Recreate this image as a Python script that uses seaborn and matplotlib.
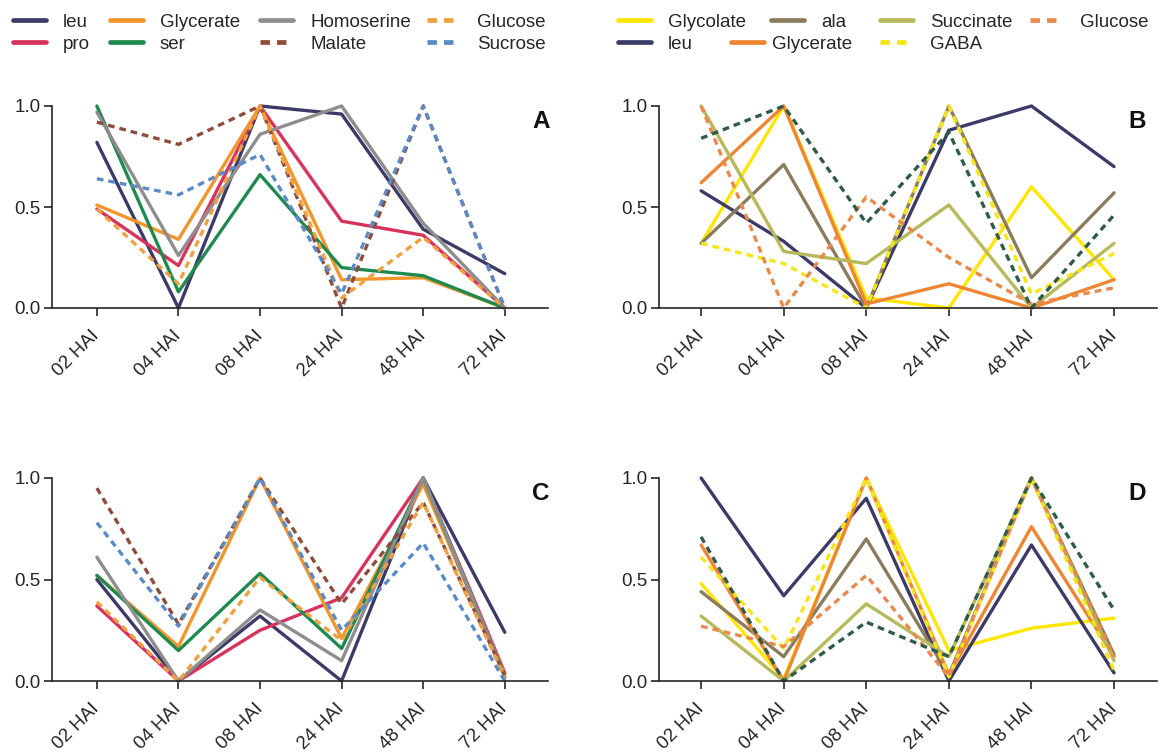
import matplotlib
matplotlib.use("Agg")
import matplotlib.pyplot as plt
import matplotlib.transforms as mtransforms
import seaborn as sns
import pandas as pd
from matplotlib.lines import Line2D

sns.set_theme(style="ticks")
plt.rcParams["font.family"] = ["Liberation Sans", "DejaVu Sans"]

times = ["02 HAI", "04 HAI", "08 HAI", "24 HAI", "48 HAI", "72 HAI"]
yticks = [0.0, 0.5, 1.0]

# Panel A
a_leu = [0.82, 0.0, 1.0, 0.96, 0.39, 0.17]
a_pro = [0.49, 0.21, 1.0, 0.43, 0.36, 0.0]
a_glycerate = [0.51, 0.34, 1.0, 0.14, 0.15, 0.0]
a_ser = [1.0, 0.08, 0.66, 0.20, 0.16, 0.0]
a_homoserine = [0.97, 0.26, 0.86, 1.0, 0.42, 0.0]
a_malate = [0.92, 0.81, 1.0, 0.0, 1.0, 0.0]
a_glucose = [0.49, 0.12, 1.0, 0.05, 0.35, 0.0]
a_sucrose = [0.64, 0.56, 0.76, 0.07, 1.0, 0.0]

# Panel B
b_glycolate = [0.32, 1.0, 0.05, 0.0, 0.60, 0.14]
b_leu = [0.58, 0.33, 0.0, 0.88, 1.0, 0.70]
b_ala = [0.32, 0.71, 0.0, 1.0, 0.15, 0.57]
b_glycerate = [0.62, 1.0, 0.02, 0.12, 0.0, 0.14]
b_succinate = [1.0, 0.28, 0.22, 0.51, 0.0, 0.32]
b_gaba = [0.32, 0.22, 0.0, 1.0, 0.07, 0.27]
b_glucose = [1.0, 0.0, 0.55, 0.25, 0.02, 0.10]
b_other = [0.84, 1.0, 0.42, 0.87, 0.0, 0.46]

# Panel C
c_leu = [0.50, 0.0, 0.32, 0.0, 1.0, 0.24]
c_pro = [0.37, 0.0, 0.25, 0.41, 1.0, 0.04]
c_glycerate = [0.52, 0.17, 1.0, 0.21, 0.97, 0.03]
c_ser = [0.52, 0.15, 0.53, 0.16, 1.0, 0.02]
c_homoserine = [0.61, 0.0, 0.35, 0.10, 1.0, 0.02]
c_malate = [0.95, 0.28, 1.0, 0.38, 0.88, 0.03]
c_glucose = [0.39, 0.0, 0.51, 0.20, 0.88, 0.02]
c_sucrose = [0.78, 0.27, 1.0, 0.25, 0.68, 0.0]

# Panel D
d_glycolate = [0.48, 0.01, 1.0, 0.15, 0.26, 0.31]
d_leu = [1.0, 0.42, 0.90, 0.0, 0.67, 0.04]
d_ala = [0.44, 0.12, 0.70, 0.03, 1.0, 0.13]
d_glycerate = [0.67, 0.0, 1.0, 0.03, 0.76, 0.12]
d_succinate = [0.32, 0.0, 0.38, 0.12, 1.0, 0.10]
d_gaba = [0.61, 0.16, 1.0, 0.02, 1.0, 0.05]
d_glucose = [0.27, 0.17, 0.52, 0.02, 1.0, 0.12]
d_other = [0.71, 0.0, 0.29, 0.12, 1.0, 0.35]

DASH = (0, (2.0, 1.5))
LW = 2.4

left_style = [
    ("leu", "#3c3b68", "-"),
    ("pro", "#d8335c", "-"),
    ("Glycerate", "#f2952c", "-"),
    ("ser", "#1f8a4f", "-"),
    ("Homoserine", "#8e8e8e", "-"),
    ("Malate", "#8f4c3c", DASH),
    ("Glucose", "#f0a040", DASH),
    ("Sucrose", "#5b8bc7", DASH),
]
right_style = [
    ("Glycolate", "#ffe600", "-"),
    ("leu", "#3c3b68", "-"),
    ("ala", "#8a7c5d", "-"),
    ("Glycerate", "#ee8633", "-"),
    ("Succinate", "#b7b95b", "-"),
    ("GABA", "#f6e619", DASH),
    ("Glucose", "#e98a4c", DASH),
    ("other", "#2f5b49", DASH),
]

panel_a = [a_leu, a_pro, a_glycerate, a_ser, a_homoserine, a_malate, a_glucose, a_sucrose]
panel_b = [b_glycolate, b_leu, b_ala, b_glycerate, b_succinate, b_gaba, b_glucose, b_other]
panel_c = [c_leu, c_pro, c_glycerate, c_ser, c_homoserine, c_malate, c_glucose, c_sucrose]
panel_d = [d_glycolate, d_leu, d_ala, d_glycerate, d_succinate, d_gaba, d_glucose, d_other]

W, H = 1168, 755
fig = plt.figure(figsize=(W / 100, H / 100), dpi=100)
fig.patch.set_facecolor("white")


def px_axes(x0, x1, ytop, ybot):
    return fig.add_axes([x0 / W, 1 - ybot / H, (x1 - x0) / W, (ybot - ytop) / H])


ax_a = px_axes(52, 548, 106, 308)
ax_b = px_axes(659, 1157, 106, 308)
ax_c = px_axes(52, 548, 478, 681)
ax_d = px_axes(659, 1157, 478, 681)

INK = "#262626"
FS = 13.5
FS_PX = FS * 100 / 72
label_shift = mtransforms.ScaledTranslation(5 / 100, -6 / 100, fig.dpi_scale_trans)


def draw_panel(ax, series, styles, letter, xlim, letter_x):
    for vals, (name, color, ls) in zip(series, styles):
        df = pd.DataFrame({"time": times, "value": vals})
        sns.lineplot(data=df, x="time", y="value", ax=ax, color=color,
                     linestyle=ls, linewidth=LW, clip_on=False,
                     sort=False, legend=False, dash_capstyle="butt")
    ax.set_xlim(*xlim)
    ax.set_ylim(0, 1)
    ax.set_yticks(yticks)
    ax.set_yticklabels([f"{v:.1f}" for v in yticks])
    ax.set_xticks(range(len(times)))
    ax.set_xticklabels(times, rotation=45, ha="right", va="center",
                       rotation_mode="anchor")
    for lab in ax.get_xticklabels():
        lab.set_transform(lab.get_transform() + label_shift)
    ax.set_xlabel("")
    ax.set_ylabel("")
    ax.tick_params(axis="both", labelsize=FS, colors=INK, width=1.2,
                   length=6, direction="out")
    ax.tick_params(axis="x", pad=12)
    ax.tick_params(axis="y", pad=2)
    for side in ("top", "right"):
        ax.spines[side].set_visible(False)
    for side in ("left", "bottom"):
        ax.spines[side].set_color(INK)
        ax.spines[side].set_linewidth(1.2)
    ax.patch.set_alpha(0)
    ax.text(letter_x, 0.925, letter, transform=ax.transAxes, ha="center",
            va="center", fontsize=17.5, fontweight="bold", color="#111111")


draw_panel(ax_a, panel_a, left_style, "A", (-0.55, 5.53), 0.986)
draw_panel(ax_b, panel_b, right_style, "B", (-0.51, 5.52), 0.960)
draw_panel(ax_c, panel_c, left_style, "C", (-0.55, 5.53), 0.986)
draw_panel(ax_d, panel_d, right_style, "D", (-0.51, 5.52), 0.960)


def handle_for(styles, name):
    for n, color, ls in styles:
        if n == name:
            return Line2D([], [], color=color, linestyle=ls, linewidth=3.4,
                          dash_capstyle="butt")


# legend entries: (name, handle x px, row centre y px, handle-to-text gap px)
ROW1, ROW2 = 22, 44
left_entries = [
    ("leu", 13, ROW1, 17), ("pro", 13, ROW2, 17),
    ("Glycerate", 110, ROW1, 17), ("ser", 110, ROW2, 17),
    ("Homoserine", 260, ROW1, 17), ("Malate", 260, ROW2, 17),
    ("Glucose", 427, ROW1, 17), ("Sucrose", 427, ROW2, 17),
]
right_entries = [
    ("Glycolate", 618, ROW1, 17), ("leu", 618, ROW2, 17),
    ("ala", 771, ROW1, 17), ("Glycerate", 731, ROW2, 8),
    ("Succinate", 880, ROW1, 17), ("GABA", 880, ROW2, 17),
    ("Glucose", 1030, ROW1, 17),
]

for styles, entries in ((left_style, left_entries), (right_style, right_entries)):
    for name, x, y, gap in entries:
        fig.legend([handle_for(styles, name)], [name], loc="center left",
                   bbox_to_anchor=(x / W, 1 - y / H), frameon=False,
                   fontsize=FS, handlelength=33 / FS_PX,
                   handletextpad=gap / FS_PX, borderaxespad=0, borderpad=0,
                   labelcolor=INK)

fig.savefig("out.png", dpi=100, facecolor="white")
